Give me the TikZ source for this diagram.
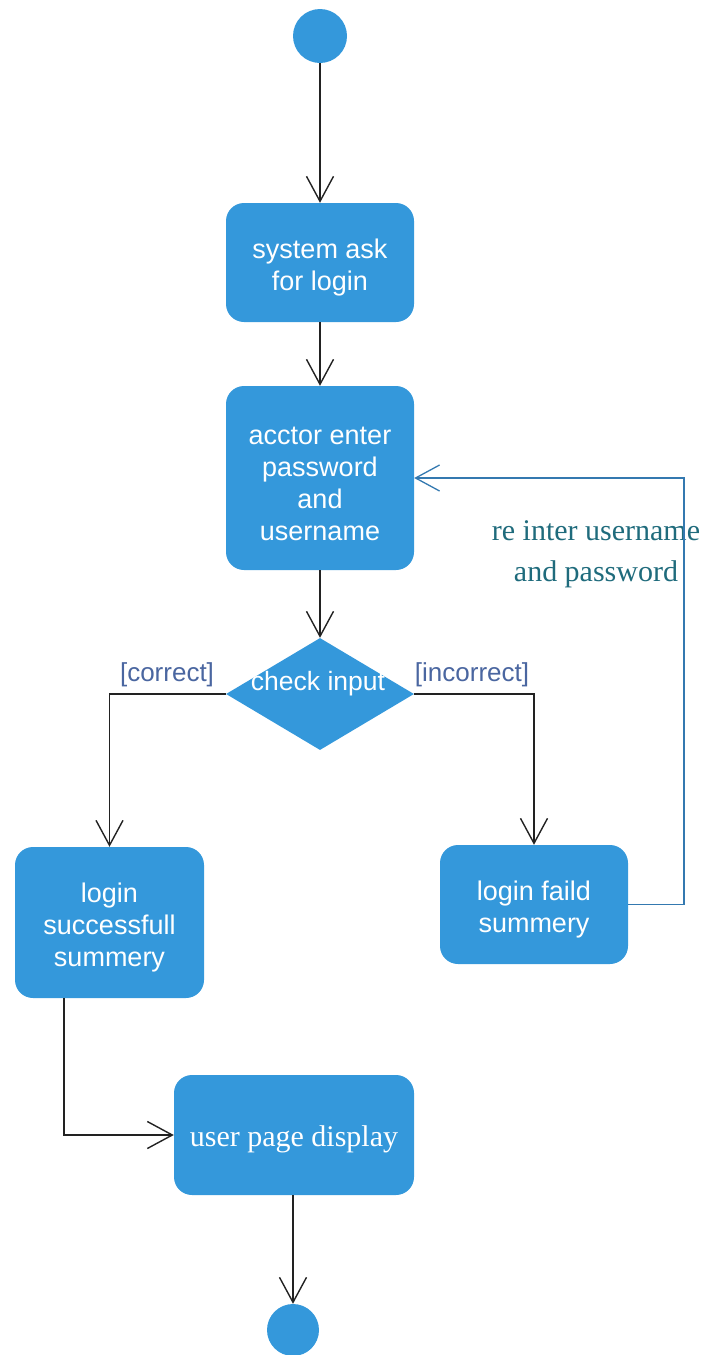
\documentclass[tikz,border=0pt]{standalone}
\usepackage{fontspec}
\setmainfont{Liberation Sans}
\newfontfamily\serifx{Liberation Serif}
\usetikzlibrary{arrows.meta,shapes.geometric}
\definecolor{boxblue}{HTML}{3498DB}
\definecolor{guardc}{HTML}{4A66A0}
\definecolor{tealc}{HTML}{1F6B7C}
\definecolor{fbline}{HTML}{3479B0}
\definecolor{linec}{HTML}{222222}
\newcommand\dnstrut{\rule{0pt}{30pt}}
\tikzset{
  act/.style={rectangle, rounded corners=18pt, fill=boxblue, draw=none, inner sep=0pt,
    text=white, align=center, font=\fontsize{27}{32}\selectfont},
  dot/.style={circle, fill=boxblue, draw=none, inner sep=0pt},
  flow/.style={draw=linec, line width=1.4pt, -{Straight Barb[length=25pt,width=27pt,line width=1.4pt]}},
  back/.style={draw=fbline, line width=1.3pt, -{Straight Barb[length=24pt,width=26pt,line width=1.3pt]}},
  guard/.style={text=guardc, font=\fontsize{26}{28}\selectfont, inner sep=0pt}
}
\begin{document}
\begin{tikzpicture}[x=1pt,y=-1pt]
\useasboundingbox (0,0) rectangle (704,1355);
\node[dot, minimum size=54pt] (start) at (320,36) {};
\node[act, minimum width=188pt, minimum height=119pt] (b1) at (320,262.5) {\dnstrut system ask\\for login};
\node[act, minimum width=188pt, minimum height=184pt] (b2) at (320,478) {\dnstrut acctor enter\\password\\and\\username};
\node[diamond, fill=boxblue, draw=none, inner sep=0pt, minimum width=188pt, minimum height=112pt] (dec) at (320,694) {};
\node[text=white, font=\fontsize{26.5}{32}\selectfont, inner sep=0pt] (dect) at (318,684) {check input};
\node[guard] (gc) at (167,675) {[correct]};
\node[guard] (gi) at (472,675) {[incorrect]};
\node[act, minimum width=189pt, minimum height=151pt] (b3) at (109.5,922.5) {\dnstrut login\\successfull\\summery};
\node[act, minimum width=188pt, minimum height=119pt] (b4) at (534,904.5) {\dnstrut login faild\\summery};
\node[act, minimum width=240pt, minimum height=120pt, font=\serifx\fontsize{30}{32}\selectfont] (b5) at (294,1135) {\rule{0pt}{30pt}user page display};
\node[dot, minimum size=52pt] (end) at (293,1330) {};
\node[text=tealc, align=center, font=\serifx\fontsize{30}{41}\selectfont, inner sep=0pt] (fbl) at (596,554) {re inter username\\and password};
\coordinate (fb) at (684,700);
\coordinate (c3) at ([xshift=-45.5pt]b3.south);

\draw[flow] (start.south) -- (b1.north);
\draw[flow] (b1.south) -- (b2.north);
\draw[flow] (b2.south) -- (dec.north);
\draw[flow] (dec.west) -| (b3.north);
\draw[flow] (dec.east) -| (b4.north);
\draw[flow] (c3) |- (b5.west);
\draw[flow] (b5.south -| end) -- (end.north);
\draw[back] (b4.east) -- (b4.east -| fb) -- (b2.east -| fb) -- (b2.east);
\end{tikzpicture}
\end{document}
